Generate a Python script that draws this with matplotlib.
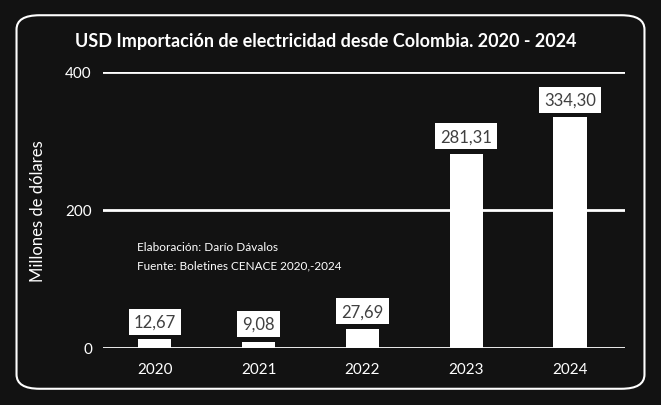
"""USD electricity imports from Colombia, 2020-2024."""

import matplotlib
matplotlib.use("Agg")
import matplotlib.pyplot as plt
from matplotlib.patches import FancyBboxPatch

years = ["2020", "2021", "2022", "2023", "2024"]
values = [12.67, 9.08, 27.69, 281.31, 334.30]
value_labels = ["12,67", "9,08", "27,69", "281,31", "334,30"]
yticks = [0, 200, 400]

plt.rcParams["font.family"] = ["Lato", "DejaVu Sans"]

bg = "#121212"
fig = plt.figure(figsize=(6.61, 4.06), dpi=100, facecolor=bg)

# rounded frame
frame = FancyBboxPatch((0.025, 0.04), 0.95, 0.92,
                       boxstyle="round,pad=0,rounding_size=0.035",
                       transform=fig.transFigure, facecolor="none",
                       edgecolor="white", linewidth=1.5)
fig.patches.append(frame)

ax = fig.add_axes([103 / 661, 1 - 349 / 406, 522 / 661, 276 / 406])
ax.set_facecolor("none")

x = range(len(years))
ax.bar(x, values, width=0.32, color="white", zorder=3)

for xi, v, lab in zip(x, values, value_labels):
    ax.annotate(lab, (xi, v), xytext=(0, 7), textcoords="offset points",
                ha="center", va="bottom", fontsize=12, color="#404040",
                bbox=dict(boxstyle="square,pad=0.3", facecolor="white",
                          edgecolor="none"), zorder=4)

ax.set_xlim(-0.5, 4.53)
ax.set_ylim(0, 400)
ax.set_yticks(yticks)
ax.set_xticks(list(x))
ax.set_xticklabels(years)
for yt in yticks:
    ax.axhline(yt, color="white", linewidth=2, zorder=2)
ax.tick_params(colors="white", length=0, labelsize=11, pad=8)
ax.tick_params(axis="x", pad=10)
for s in ax.spines.values():
    s.set_visible(False)

ax.set_ylabel("Millones de dólares", color="white", fontsize=12, labelpad=14)

fig.text(326 / 661, 1 - 42 / 406, "USD Importación de electricidad desde Colombia. 2020 - 2024",
         ha="center", va="center", color="white", fontsize=13, fontweight="bold")

fig.text(137 / 661, 1 - 248 / 406, "Elaboración: Darío Dávalos",
         ha="left", va="center", color="white", fontsize=8.5)
fig.text(137 / 661, 1 - 266 / 406, "Fuente: Boletines CENACE 2020,-2024",
         ha="left", va="center", color="white", fontsize=8.5)

fig.savefig("out.png", dpi=100, facecolor=bg)
